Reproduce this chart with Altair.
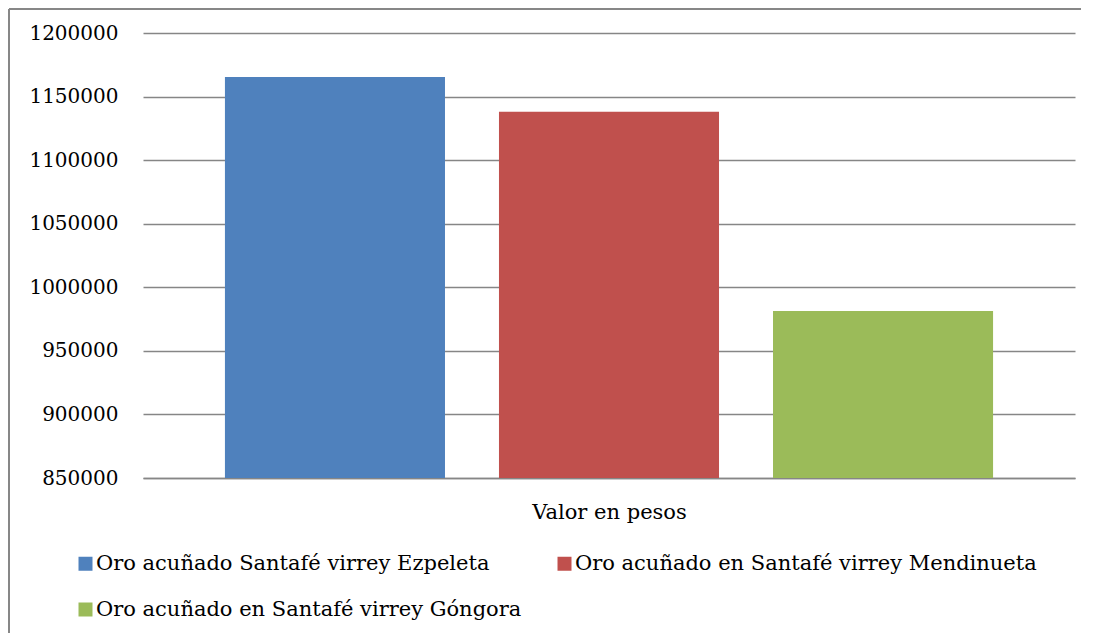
import altair as alt
import pandas as pd

series = [
    "Oro acuñado Santafé virrey Ezpeleta",
    "Oro acuñado en Santafé virrey Mendinueta",
    "Oro acuñado en Santafé virrey Góngora",
]
values = [1165400, 1138000, 981300]
colors = ["#4F81BD", "#C0504D", "#9BBB59"]
y_ticks = [850000, 900000, 950000, 1000000, 1050000, 1100000, 1150000, 1200000]
category_label = "Valor en pesos"

df = pd.DataFrame({"serie": series, "valor": values})

FONT = "DejaVu Serif"
W, H = 932, 445

bars = alt.Chart(df).mark_bar(clip=True).encode(
    x=alt.X(
        "serie:N",
        sort=series,
        scale=alt.Scale(paddingInner=0.197, paddingOuter=0.299),
        axis=alt.Axis(
            title=category_label,
            labels=False,
            ticks=False,
            tickSize=0,
            domain=True,
            domainColor="#868686",
            domainWidth=1.5,
            titleFont=FONT,
            titleFontSize=21,
            titleFontWeight="normal",
            titleColor="#000000",
            titlePadding=23,
        ),
    ),
    y=alt.Y(
        "valor:Q",
        scale=alt.Scale(domain=[850000, 1200000], zero=False, nice=False),
        axis=alt.Axis(
            title=None,
            values=y_ticks,
            format="d",
            domain=False,
            ticks=False,
            tickSize=0,
            labelPadding=25,
            labelFont=FONT,
            labelFontSize=20,
            labelColor="#000000",
            grid=True,
            gridColor="#868686",
            gridWidth=1.5,
        ),
    ),
    color=alt.Color(
        "serie:N",
        sort=series,
        scale=alt.Scale(domain=series, range=colors),
        legend=alt.Legend(
            title=None,
            orient="none",
            legendX=-68,
            legendY=520,
            padding=0,
            direction="horizontal",
            columns=2,
            symbolType="square",
            symbolSize=196,
            symbolStrokeWidth=0,
            labelFont=FONT,
            labelFontSize=21,
            labelColor="#000000",
            labelLimit=0,
            labelOffset=0,
            columnPadding=32,
            rowPadding=24,
        ),
    ),
)

frame_left = alt.Chart(df).mark_rule(color="#868686", strokeWidth=1.5).encode(
    x=alt.value(-134), y=alt.value(-24), y2=alt.value(600)
)
frame_top = alt.Chart(df).mark_rule(color="#868686", strokeWidth=1.5).encode(
    x=alt.value(-134), x2=alt.value(938), y=alt.value(-24)
)

chart = (
    alt.layer(bars, frame_left, frame_top)
    .properties(width=W, height=H, padding=0)
    .configure(font=FONT)
    .configure_view(stroke=None)
)

chart.save("out.html", embed_options={"renderer": "svg", "actions": False})
